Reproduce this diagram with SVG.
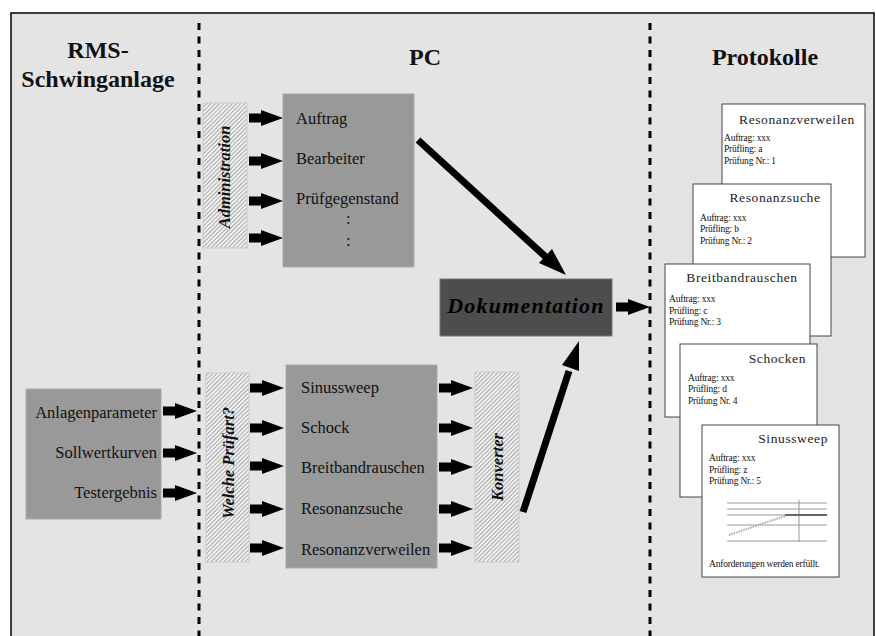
<svg xmlns="http://www.w3.org/2000/svg" width="876" height="636" viewBox="0 0 876 636">
<defs>
<pattern id="hatch" width="3" height="3" patternUnits="userSpaceOnUse" patternTransform="rotate(45)">
<rect width="3" height="3" fill="#f0f0f0"/>
<line x1="0" y1="0" x2="0" y2="3" stroke="#7a7a7a" stroke-width="1.2"/>
</pattern>
<path id="sa" d="M0,-4.5 H12 V-8 L34,0 L12,8 V4.5 H0 Z" fill="#000"/>
</defs>
<style>
.frame{fill:#e4e4e4;stroke:#000;stroke-width:1.5}
.div{stroke:#000;stroke-width:3;stroke-dasharray:7 6.5;fill:none}
.title{font-family:"Liberation Serif",serif;font-weight:bold;font-size:24px;fill:#111;text-anchor:middle}
.grey{fill:#999;stroke:#aaa;stroke-width:1}
.hat{fill:url(#hatch);stroke:#ccc;stroke-width:1}
.t{font-family:"Liberation Serif",serif;font-size:16.5px;fill:#111}
.rot{font-family:"Liberation Serif",serif;font-weight:bold;font-style:italic;font-size:16.5px;fill:#111;text-anchor:middle}
.doc{fill:#fff;stroke:#444;stroke-width:1}
.dt{font-family:"Liberation Serif",serif;font-size:13.5px;fill:#222;letter-spacing:0.6px}
.ds{font-family:"Liberation Serif",serif;font-size:9.5px;fill:#111;letter-spacing:-0.2px}
.big{stroke:#000;stroke-width:7;fill:none}
.ch{stroke:#999;stroke-width:1;fill:none}
</style>
<rect x="0" y="0" width="876" height="636" fill="#fff"/>
<rect class="frame" x="11" y="13" width="863" height="630"/>
<line class="div" x1="199" y1="23" x2="199" y2="636"/>
<line class="div" x1="650" y1="23" x2="650" y2="636"/>
<text class="title" x="98" y="58">RMS-</text>
<text class="title" x="98" y="87">Schwinganlage</text>
<text class="title" x="425" y="65">PC</text>
<text class="title" x="765" y="65">Protokolle</text>

<g id="rms">
<rect class="grey" x="26" y="389" width="135" height="130"/>
<text class="t" x="157" y="418" text-anchor="end">Anlagenparameter</text>
<text class="t" x="157" y="458" text-anchor="end">Sollwertkurven</text>
<text class="t" x="157" y="498" text-anchor="end">Testergebnis</text>
</g>
<g id="administration">
<rect class="hat" x="203" y="103" width="44" height="145"/>
<text class="rot" font-size="16" transform="translate(230,177) rotate(-90)">Administration</text>
</g>
<g id="admin-list">
<rect class="grey" x="283" y="94" width="131" height="173"/>
<text class="t" x="296" y="124">Auftrag</text>
<text class="t" x="296" y="164">Bearbeiter</text>
<text class="t" x="296" y="204">Prüfgegenstand</text>
<text class="t" x="346" y="224">:</text>
<text class="t" x="346" y="246">:</text>
</g>
<g id="welche">
<rect class="hat" x="206" y="373" width="43" height="189"/>
<text class="rot" transform="translate(234,463) rotate(-90)">Welche Prüfart?</text>
</g>
<g id="pruefarten">
<rect class="grey" x="286" y="365" width="151" height="203"/>
<text class="t" x="301" y="393">Sinussweep</text>
<text class="t" x="301" y="433">Schock</text>
<text class="t" x="301" y="473">Breitbandrauschen</text>
<text class="t" x="301" y="514">Resonanzsuche</text>
<text class="t" x="301" y="555">Resonanzverweilen</text>
</g>
<g id="konverter">
<rect class="hat" x="475" y="372" width="44" height="190"/>
<text class="rot" font-size="17" transform="translate(503,467) rotate(-90)">Konverter</text>
</g>
<g id="dokumentation">
<rect x="440" y="279" width="172" height="57" fill="#4d4d4d" stroke="#777" stroke-width="1"/>
<text x="526" y="313" text-anchor="middle" font-family="Liberation Serif, serif" font-weight="bold" font-style="italic" font-size="22" letter-spacing="1.2" fill="#000">Dokumentation</text>
</g>

<g id="protokolle">
<g id="p1">
<rect class="doc" x="722" y="104" width="143" height="153"/>
<text class="dt" x="797" y="124" text-anchor="middle">Resonanzverweilen</text>
<text class="ds" x="724" y="141">Auftrag: xxx</text>
<text class="ds" x="724" y="152">Prüfling: a</text>
<text class="ds" x="724" y="164">Prüfung Nr.: 1</text>
</g>
<g id="p2">
<rect class="doc" x="693" y="184" width="138" height="152"/>
<text class="dt" x="775" y="202" text-anchor="middle">Resonanzsuche</text>
<text class="ds" x="700" y="221">Auftrag: xxx</text>
<text class="ds" x="700" y="232">Prüfling: b</text>
<text class="ds" x="700" y="244">Prüfung Nr.: 2</text>
</g>
<g id="p3">
<rect class="doc" x="665" y="264" width="145" height="153"/>
<text class="dt" x="742" y="282" text-anchor="middle">Breitbandrauschen</text>
<text class="ds" x="669" y="302">Auftrag: xxx</text>
<text class="ds" x="669" y="314">Prüfling: c</text>
<text class="ds" x="669" y="325">Prüfung Nr.: 3</text>
</g>
<g id="p4">
<rect class="doc" x="680" y="344" width="137" height="153"/>
<text class="dt" x="806" y="363" text-anchor="end">Schocken</text>
<text class="ds" x="688" y="381">Auftrag: xxx</text>
<text class="ds" x="688" y="392">Prüfling: d</text>
<text class="ds" x="688" y="404">Prüfung Nr. 4</text>
</g>
<g id="p5">
<rect class="doc" x="702" y="425" width="137" height="152"/>
<text class="dt" x="828" y="443" text-anchor="end">Sinussweep</text>
<text class="ds" x="709" y="461">Auftrag: xxx</text>
<text class="ds" x="709" y="473">Prüfling: z</text>
<text class="ds" x="709" y="484">Prüfung Nr.: 5</text>
<line class="ch" x1="727" y1="503" x2="827" y2="503"/>
<line class="ch" x1="727" y1="509" x2="827" y2="509"/>
<line class="ch" x1="727" y1="515" x2="827" y2="515"/>
<line class="ch" x1="727" y1="525" x2="827" y2="525"/>
<line class="ch" x1="727" y1="541" x2="827" y2="541"/>
<line class="ch" x1="799" y1="500" x2="799" y2="542"/>
<line x1="729" y1="535" x2="785" y2="516" stroke="#aaa" stroke-width="2" stroke-dasharray="1.5 1"/>
<line x1="785" y1="515" x2="827" y2="515" stroke="#444" stroke-width="1.5"/>
<text class="ds" x="709" y="567">Anforderungen werden erfüllt.</text>
</g>
</g>

<g id="connectors">
<use href="#sa" x="249" y="118"/>
<use href="#sa" x="249" y="161"/>
<use href="#sa" x="249" y="201"/>
<use href="#sa" x="249" y="238"/>
<use href="#sa" x="163" y="411"/>
<use href="#sa" x="163" y="453"/>
<use href="#sa" x="163" y="493"/>
<use href="#sa" x="250" y="388"/>
<use href="#sa" x="250" y="428"/>
<use href="#sa" x="250" y="466"/>
<use href="#sa" x="250" y="509"/>
<use href="#sa" x="250" y="548"/>
<use href="#sa" x="439" y="388"/>
<use href="#sa" x="439" y="428"/>
<use href="#sa" x="439" y="467"/>
<use href="#sa" x="439" y="509"/>
<use href="#sa" x="439" y="548"/>
<use href="#sa" x="616" y="307"/>
<line class="big" x1="418" y1="140" x2="548" y2="259"/>
<polygon points="566,275 539,263 552,249" fill="#000"/>
<line class="big" x1="523" y1="512" x2="569" y2="371"/>
<polygon points="579,341 579,371 562,365" fill="#000"/>
</g>
</svg>
